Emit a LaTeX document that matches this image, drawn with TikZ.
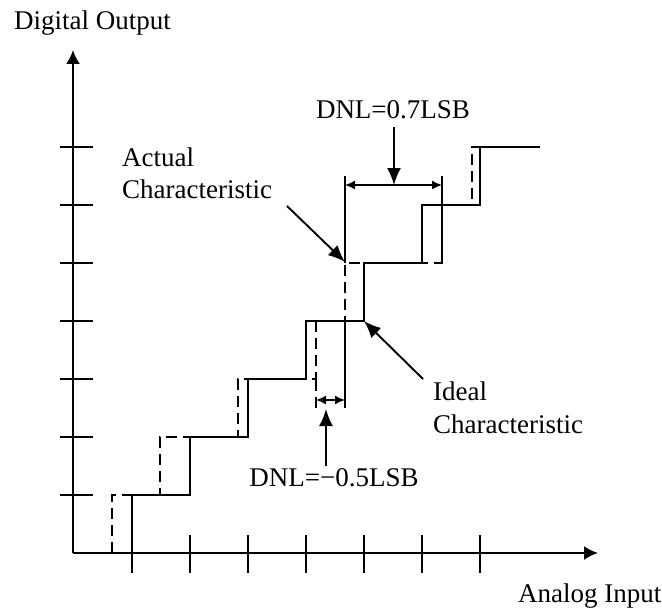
\documentclass[tikz,border=0pt]{standalone}
\usepackage{fontspec}
\setmainfont{Liberation Serif}
\usetikzlibrary{arrows.meta}
\begin{document}
\begin{tikzpicture}[x=1pt,y=-1pt,
  axis/.style={line width=1.9pt},
  ideal/.style={line width=2.5pt, line join=miter},
  actual/.style={line width=2pt, dash pattern=on 11pt off 6pt},
  tickline/.style={line width=1.4pt},
  extline/.style={line width=1.4pt},
  dimarrow/.style={line width=1.5pt, {Latex[length=10pt,width=9pt]}-{Latex[length=10pt,width=9pt]}},
  pointer/.style={line width=1.9pt, -{Latex[length=17pt,width=14pt]}},
  axisarrow/.style={axis, -{Latex[length=14pt,width=14pt]}},
  lbl/.style={font=\fontsize{27}{32}\selectfont, inner sep=0pt, anchor=base west},
  clbl/.style={font=\fontsize{27}{32}\selectfont, inner sep=0pt, anchor=base}]
\useasboundingbox (0,0) rectangle (662,610);

% axes
\coordinate (O) at (73,553);
\coordinate (ytop) at (73,50);
\coordinate (xend) at (598,553);
\draw[axisarrow] (O) -- (ytop);
\draw[axisarrow] (O) -- (xend);

% y ticks
\foreach \y in {147,205,263,321,379,437,495}
  \draw[tickline] (60,\y) -- (93,\y);
% x ticks
\draw[tickline] (132,553) -- (132,573);
\foreach \x in {190,248,306,364,422,480}
  \draw[tickline] (\x,535) -- (\x,573);

% actual characteristic (dashed)
\draw[actual] (112,553) -- (112,495) -- (160,495) -- (160,437) -- (238,437)
  -- (238,379) -- (316,379) -- (316,321) -- (345,321) -- (345,263)
  -- (442,263) -- (442,205) -- (472,205) -- (472,147) -- (540,147);
\draw[actual] (316,408) -- (316,379);

% ideal characteristic (solid)
\draw[ideal] (132,553) -- (132,495) -- (190,495) -- (190,437) -- (248,437)
  -- (248,379) -- (306,379) -- (306,321) -- (364,321) -- (364,263)
  -- (422,263) -- (422,205) -- (480,205) -- (480,147) -- (540,147);

% extension lines
\coordinate (e1t) at (345,176);
\coordinate (e1b) at (345,263);
\coordinate (e2t) at (442,176);
\coordinate (e2b) at (442,263);
\coordinate (e3t) at (345,321);
\coordinate (e3b) at (345,408);
\draw[extline] (e1t) -- (e1b);
\draw[extline] (e2t) -- (e2b);
\draw[extline] (e3t) -- (e3b);

% dimension arrows
\coordinate (d1a) at (345,185);
\coordinate (d1b) at (442,185);
\coordinate (d2a) at (316,400);
\coordinate (d2b) at (345,400);
\draw[dimarrow] (d1a) -- (d1b);
\draw[dimarrow] (d2a) -- (d2b);

% labels
\node[lbl] (yl) at (14,30) {Digital Output};
\node[lbl] (xl) at (518,602) {Analog Input};
\node[lbl] (act1) at (122,166) {Actual};
\node[lbl] (act2) at (122,198) {Characteristic};
\node[lbl] (id1) at (433,400) {Ideal};
\node[lbl] (id2) at (433,433) {Characteristic};
\node[clbl] (dnl1) at (393,118) {DNL=0.7LSB};
\node[clbl] (dnl2) at (334,486) {DNL=−0.5LSB};

% pointers
\coordinate (p1s) at (394,127);
\coordinate (p1e) at (394,185);
\coordinate (p2s) at (326,466);
\coordinate (p2e) at (326,409);
\coordinate (pas) at (287,206);
\coordinate (pae) at (345,262);
\coordinate (pis) at (423,379);
\coordinate (pie) at (364,321);
\draw[pointer] (p1s) -- (p1e);
\draw[pointer] (p2s) -- (p2e);
\draw[pointer] (pas) -- (pae);
\draw[pointer] (pis) -- (pie);
\end{tikzpicture}
\end{document}
